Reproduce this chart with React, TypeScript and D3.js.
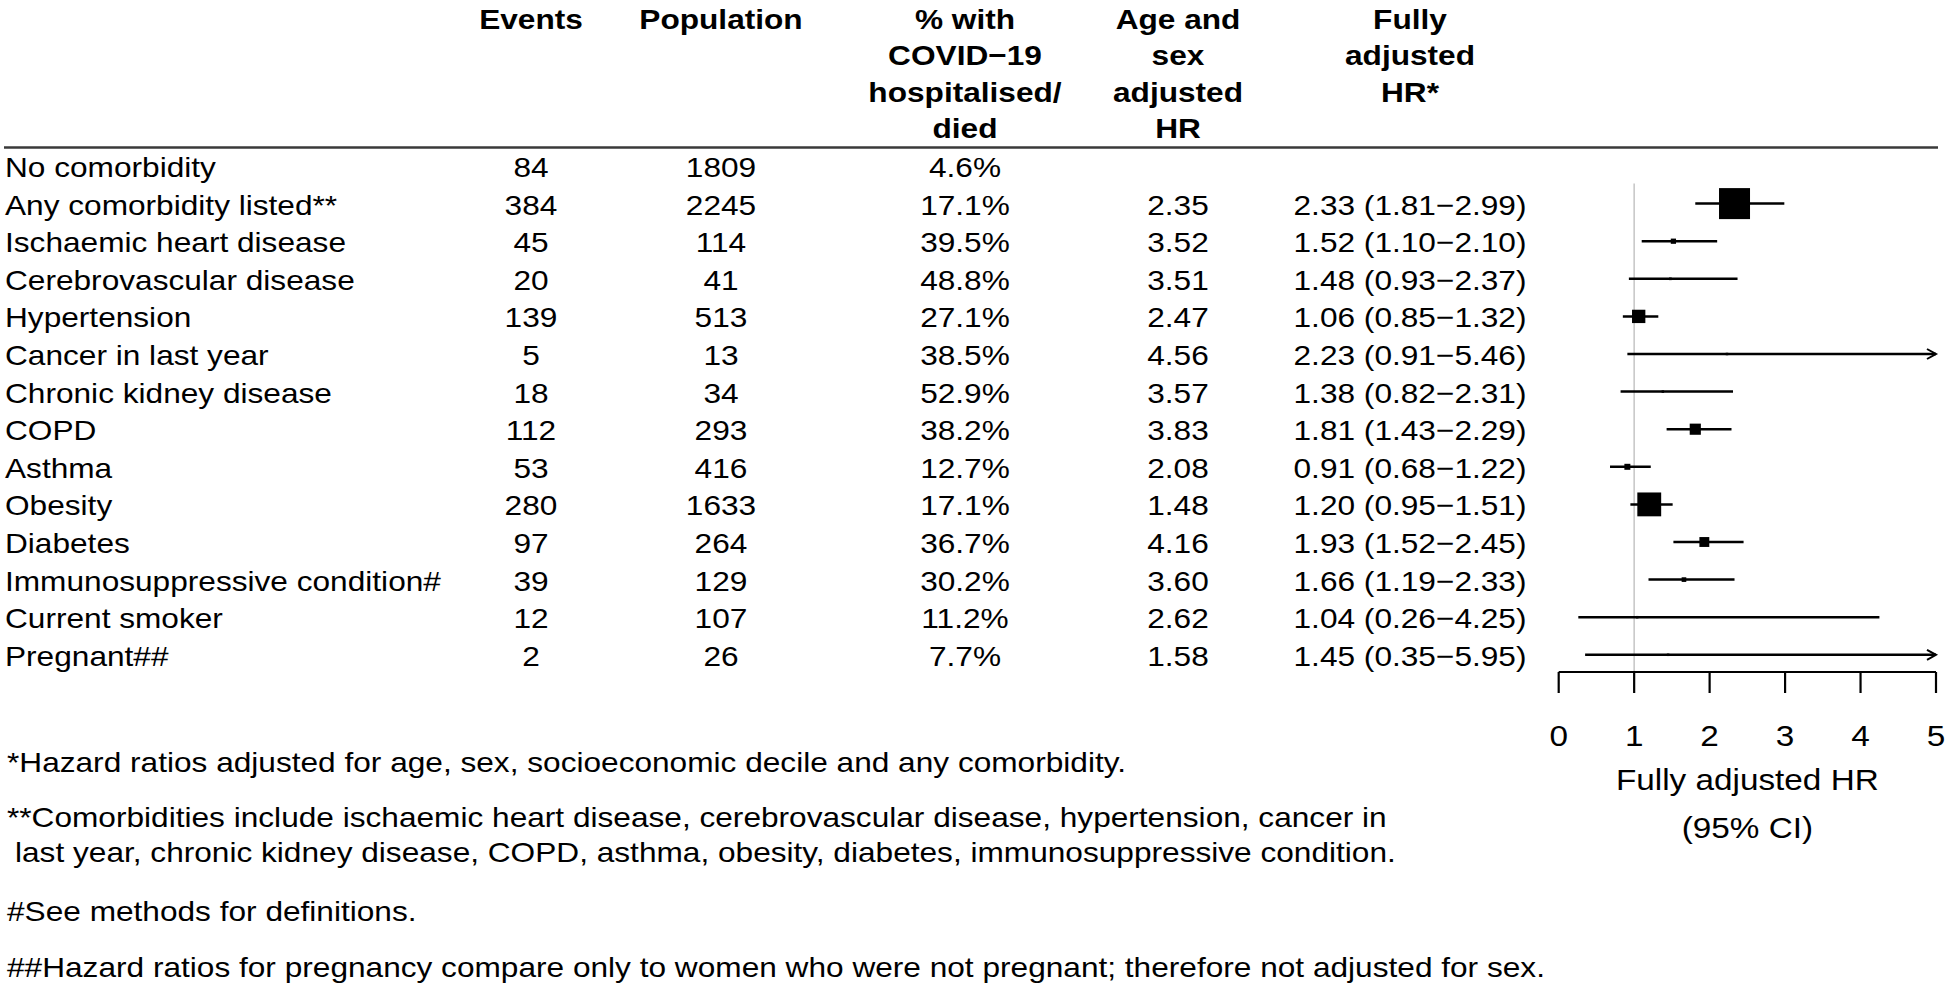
import React from "react";
import * as d3 from "d3";

const labels = [
  "No comorbidity",
  "Any comorbidity listed**",
  "Ischaemic heart disease",
  "Cerebrovascular disease",
  "Hypertension",
  "Cancer in last year",
  "Chronic kidney disease",
  "COPD",
  "Asthma",
  "Obesity",
  "Diabetes",
  "Immunosuppressive condition#",
  "Current smoker",
  "Pregnant##",
];
const events = [84, 384, 45, 20, 139, 5, 18, 112, 53, 280, 97, 39, 12, 2];
const population = [1809, 2245, 114, 41, 513, 13, 34, 293, 416, 1633, 264, 129, 107, 26];
const pctHosp = [4.6, 17.1, 39.5, 48.8, 27.1, 38.5, 52.9, 38.2, 12.7, 17.1, 36.7, 30.2, 11.2, 7.7];
const ageSexHR: (number | null)[] = [null, 2.35, 3.52, 3.51, 2.47, 4.56, 3.57, 3.83, 2.08, 1.48, 4.16, 3.6, 2.62, 1.58];
const fullHR: (number | null)[] = [null, 2.33, 1.52, 1.48, 1.06, 2.23, 1.38, 1.81, 0.91, 1.2, 1.93, 1.66, 1.04, 1.45];
const fullLo: (number | null)[] = [null, 1.81, 1.1, 0.93, 0.85, 0.91, 0.82, 1.43, 0.68, 0.95, 1.52, 1.19, 0.26, 0.35];
const fullHi: (number | null)[] = [null, 2.99, 2.1, 2.37, 1.32, 5.46, 2.31, 2.29, 1.22, 1.51, 2.45, 2.33, 4.25, 5.95];

const axisTicks = [0, 1, 2, 3, 4, 5];

const headers = {
  events: ["Events"],
  population: ["Population"],
  pct: ["% with", "COVID\u221219", "hospitalised/", "died"],
  age: ["Age and", "sex", "adjusted", "HR"],
  full: ["Fully", "adjusted", "HR*"],
};

const footnotes = [
  "*Hazard ratios adjusted for age, sex, socioeconomic decile and any comorbidity.",
  "**Comorbidities include ischaemic heart disease, cerebrovascular disease, hypertension, cancer in",
  "last year, chronic kidney disease, COPD, asthma, obesity, diabetes, immunosuppressive condition.",
  "#See methods for definitions.",
  "##Hazard ratios for pregnancy compare only to women who were not pregnant; therefore not adjusted for sex.",
];

const W = 1946;
const H = 989;
const FONT = '"Liberation Sans", Arial, Helvetica, sans-serif';
const SX = 1.11;
const BODY = 28.5;
const AXF = 30;

const colX = { label: 5, events: 531, population: 721, pct: 965, age: 1178, full: 1410 };
const headerBaselines = [28.5, 65, 101.5, 138];
const footBaselines = [772, 827, 862, 921, 977];
const footX = [7, 7, 15, 7, 7];

function T({ x, y, anchor = "start", size = BODY, weight = "normal", children }: any) {
  return (
    <text
      transform={`translate(${x},${y}) scale(${SX},1)`}
      textAnchor={anchor}
      fontFamily={FONT}
      fontSize={size}
      fontWeight={weight}
      fill="#000"
    >
      {children}
    </text>
  );
}

export default function App() {
  const n = labels.length;
  const y = d3.scaleLinear().domain([0, n - 1]).range([166, 166 + 37.6 * (n - 1)]);
  const x = d3.scaleLinear().domain([0, 5]).range([1558.7, 1936]);
  const box = d3.scalePow().exponent(0.83).domain([0, d3.max(events) as number]).range([0, 31]);
  const axisY = 672;
  const fmt2 = d3.format(".2f");
  const fmt1 = d3.format(".1f");

  const headerCol = (lines: string[], cx: number) =>
    lines.map((s, i) => (
      <T key={s + i} x={cx} y={headerBaselines[i]} anchor="middle" weight="bold">
        {s}
      </T>
    ));

  return (
    <svg width={W} height={H} style={{ position: "absolute", left: 0, top: 0, background: "#fff" }}>
      <rect width={W} height={H} fill="#fff" />
      {headerCol(headers.events, colX.events)}
      {headerCol(headers.population, colX.population)}
      {headerCol(headers.pct, colX.pct)}
      {headerCol(headers.age, colX.age)}
      {headerCol(headers.full, colX.full)}
      <line x1={4} x2={1938} y1={147.5} y2={147.5} stroke="#3a3a3a" strokeWidth={2.5} />

      {labels.map((lab, i) => {
        const by = y(i) + 11;
        const hr = fullHR[i];
        const lo = fullLo[i];
        const hi = fullHi[i];
        return (
          <g key={lab}>
            <T x={colX.label} y={by}>{lab}</T>
            <T x={colX.events} y={by} anchor="middle">{events[i]}</T>
            <T x={colX.population} y={by} anchor="middle">{population[i]}</T>
            <T x={colX.pct} y={by} anchor="middle">{fmt1(pctHosp[i]) + "%"}</T>
            {ageSexHR[i] != null && (
              <T x={colX.age} y={by} anchor="middle">{fmt2(ageSexHR[i] as number)}</T>
            )}
            {hr != null && lo != null && hi != null && (
              <T x={colX.full} y={by} anchor="middle">
                {`${fmt2(hr)} (${fmt2(lo)}\u2212${fmt2(hi)})`}
              </T>
            )}
          </g>
        );
      })}

      {/* reference line at HR = 1 */}
      <line x1={x(1)} x2={x(1)} y1={y(1) - 20} y2={axisY} stroke="#c8c8c8" strokeWidth={1.6} />

      {labels.map((lab, i) => {
        const hr = fullHR[i];
        const lo = fullLo[i];
        const hi = fullHi[i];
        if (hr == null || lo == null || hi == null) return null;
        const cy = y(i);
        const x0 = x(Math.max(lo, 0));
        const x1 = x(Math.min(hi, 5));
        const s = Math.max(2.5, box(events[i]));
        const arrow = hi > 5;
        return (
          <g key={"p" + lab}>
            <line x1={x0} x2={x1} y1={cy} y2={cy} stroke="#000" strokeWidth={2.5} />
            {arrow && (
              <path
                d={`M${x1 - 9},${cy - 5}L${x1},${cy}L${x1 - 9},${cy + 5}`}
                fill="none"
                stroke="#000"
                strokeWidth={2}
              />
            )}
            <rect x={x(hr) - s / 2} y={cy - s / 2} width={s} height={s} fill="#000" />
          </g>
        );
      })}

      {/* axis */}
      <line x1={x(0)} x2={x(5)} y1={axisY} y2={axisY} stroke="#000" strokeWidth={2.2} />
      {axisTicks.map((t) => (
        <g key={"t" + t}>
          <line x1={x(t)} x2={x(t)} y1={axisY} y2={axisY + 21} stroke="#000" strokeWidth={2.2} />
          <T x={x(t)} y={746} anchor="middle" size={AXF}>{t}</T>
        </g>
      ))}
      <T x={(x(0) + x(5)) / 2} y={790} anchor="middle" size={AXF}>Fully adjusted HR</T>
      <T x={(x(0) + x(5)) / 2} y={838} anchor="middle" size={AXF}>(95% CI)</T>

      {footnotes.map((f, i) => (
        <T key={"f" + i} x={footX[i]} y={footBaselines[i]}>{f}</T>
      ))}
    </svg>
  );
}
